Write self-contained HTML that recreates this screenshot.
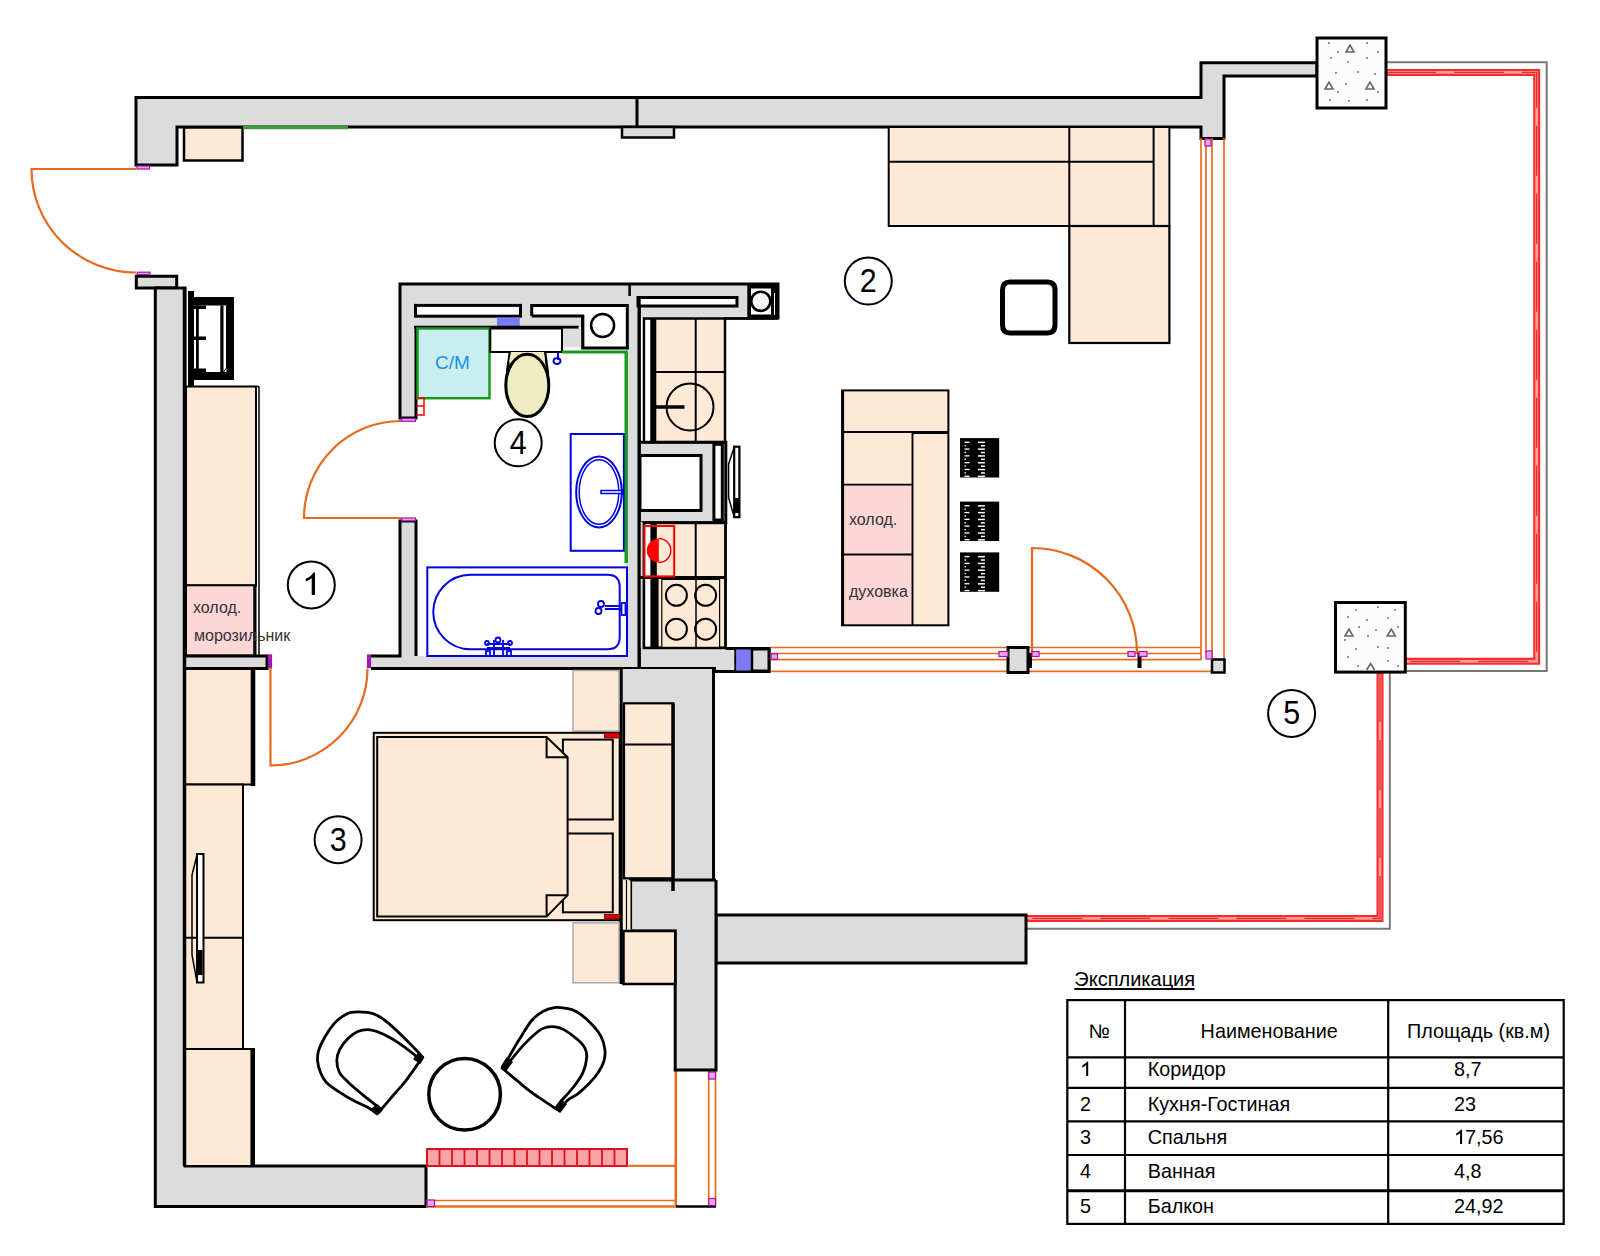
<!DOCTYPE html>
<html><head><meta charset="utf-8">
<style>
html,body{margin:0;padding:0;background:#fff;}
svg{display:block;}
text{font-family:"Liberation Sans",sans-serif;}
</style></head><body>
<svg width="1600" height="1256" viewBox="0 0 1600 1256">
<rect x="0" y="0" width="1600" height="1256" fill="#fff"/>
<!-- WALLS -->
<g fill="#dcdcdc" stroke="#000" stroke-width="3" stroke-linejoin="miter">
<path d="M136,97.6 H1201 V62.8 H1317 V76 H1224 V138.6 H1201 V127 H177 V165 H136 Z"/>
<path d="M136.3,276.3 H176.7 V288 H136.3 Z"/>
<path d="M155.3,288 H185 V1166 H426 V1206.6 H155.3 Z"/>
</g>
<!-- top wall details -->
<line x1="637" y1="97" x2="637" y2="127" stroke="#000" stroke-width="3"/>
<rect x="622" y="127" width="52" height="10.5" fill="#dcdcdc" stroke="#000" stroke-width="2.5"/>
<rect x="184" y="127.5" width="58.5" height="33" fill="#fde9d5" stroke="#000" stroke-width="2.5"/>
<line x1="243" y1="127.5" x2="348" y2="127.5" stroke="#3c9c3c" stroke-width="3.5"/>
<!-- RIGHT: pillars, railings -->
<g fill="none" stroke="#777" stroke-width="2">
<path d="M1386,62.2 H1546.7 V671 H1405"/>
<path d="M1389.8,672 V928.8 H1026"/>
</g>
<g fill="none" stroke-linejoin="miter">
<path d="M1386,72.4 H1536.7 V661.3 H1405" stroke="#ff2b2b" stroke-width="7"/>
<path d="M1386,72.4 H1536.7 V661.3 H1405" stroke="#ff9c9c" stroke-width="2.8"/>
<path d="M1386,72.4 H1536.7 V661.3 H1405" stroke="#d83030" stroke-width="1.3" stroke-dasharray="50 18"/>
<path d="M1380,672 V918.4 H1026" stroke="#ff2b2b" stroke-width="7"/>
<path d="M1380,672 V918.4 H1026" stroke="#ff9c9c" stroke-width="2.8"/>
<path d="M1380,672 V918.4 H1026" stroke="#d83030" stroke-width="1.3" stroke-dasharray="50 18"/>
</g>
<g id="pil">
<rect x="1317" y="38" width="69" height="70" fill="#fcfcfc" stroke="#000" stroke-width="3"/>
<g fill="none" stroke="#666" stroke-width="1.6">
<path d="M1346,52 L1350,45 L1354,52 Z"/>
<path d="M1325,89 L1329,82 L1333,89 Z"/>
<path d="M1366,89 L1370,82 L1374,89 Z"/>
</g>
<g fill="#666">
<circle cx="1329" cy="43" r="0.9"/><circle cx="1367" cy="43" r="0.9"/><circle cx="1338" cy="52" r="0.9"/><circle cx="1378" cy="52" r="0.9"/>
<circle cx="1331" cy="58" r="0.9"/><circle cx="1348" cy="62" r="0.9"/><circle cx="1367" cy="58" r="0.9"/><circle cx="1336" cy="73" r="0.9"/>
<circle cx="1358" cy="72" r="0.9"/><circle cx="1375" cy="74" r="0.9"/><circle cx="1346" cy="84" r="0.9"/><circle cx="1338" cy="92" r="0.9"/>
<circle cx="1330" cy="100" r="0.9"/><circle cx="1349" cy="101" r="0.9"/><circle cx="1367" cy="100" r="0.9"/><circle cx="1378" cy="92" r="0.9"/>
</g>
</g>
<rect x="1335.5" y="602.5" width="69.8" height="69.6" fill="#fcfcfc" stroke="#000" stroke-width="3"/>
<g fill="none" stroke="#666" stroke-width="1.6">
<path d="M1345,636 L1349,629 L1353,636 Z"/>
<path d="M1387.3,636 L1391.3,629 L1395.3,636 Z"/>
<path d="M1366.6,670 L1370.6,663.5 L1374.6,670"/>
</g>
<g fill="#666">
<circle cx="1356" cy="610" r="0.9"/><circle cx="1378" cy="607" r="0.9"/><circle cx="1395" cy="610" r="0.9"/><circle cx="1348" cy="617" r="0.9"/>
<circle cx="1367" cy="620" r="0.9"/><circle cx="1388" cy="618" r="0.9"/><circle cx="1359" cy="627" r="0.9"/><circle cx="1376" cy="630" r="0.9"/>
<circle cx="1398" cy="627" r="0.9"/><circle cx="1368" cy="636" r="0.9"/><circle cx="1345" cy="640" r="0.9"/><circle cx="1356" cy="649" r="0.9"/>
<circle cx="1378" cy="647" r="0.9"/><circle cx="1388" cy="648" r="0.9"/><circle cx="1348" cy="657" r="0.9"/><circle cx="1388" cy="661" r="0.9"/>
<circle cx="1358" cy="666" r="0.9"/><circle cx="1398" cy="666" r="0.9"/>
</g>
<!-- horizontal wall bedroom/living -->
<rect x="716" y="915" width="310" height="48" fill="#dcdcdc" stroke="#000" stroke-width="3"/>
<!-- BATH/KITCHEN WALLS -->
<g fill="#dcdcdc" stroke="none">
<rect x="400" y="284" width="378" height="34"/>
<rect x="400" y="284" width="240" height="43"/>
<rect x="400" y="284" width="16" height="134"/>
<rect x="400" y="521" width="16" height="147"/>
<rect x="371" y="656" width="269" height="13"/>
<rect x="626" y="318" width="14" height="350"/>
<rect x="640" y="442" width="85" height="80"/>
<rect x="624" y="648" width="145" height="23"/>
<rect x="185" y="656" width="82" height="13"/>
</g>
<g fill="none" stroke="#000" stroke-width="3">
<path d="M416,327 V418 H400 V284 H778 V318 H748"/>
<path d="M371,656 H400 V521 H416 V656"/>
<path d="M371,668.6 H716 M714,671.5 H769 V648.5 H726"/>
<path d="M639.2,297 V668"/>
<path d="M185,656 H267 V668.6 H185"/>
<path d="M629.6,284 V296" stroke-width="2.5"/>
</g>
<!-- LEFT wardrobe/entrance etc -->
<!-- DOORS (orange) -->
<g fill="none" stroke="#e8681e" stroke-width="2.2">
<path d="M136,169 H31.5 A104.5,103.5 0 0 0 136,272.5"/>
<path d="M401,518 H304 A97,97 0 0 1 401,421"/>
<path d="M270.5,668 V765.5 A97,97 0 0 0 367.5,668.5"/>
<path d="M1032,653 V548 A105,105 0 0 1 1137,653"/>
</g>
<!-- WINDOWS (orange lines) -->
<g fill="none" stroke="#ea6c1e" stroke-width="1.7">
<path d="M770,647.5 H1201 M770,653.5 H1201 M770,659.7 H1201 M770,671.4 H1212"/>
<path d="M1201,138 V660 M1206,138 V653 M1212,138 V660 M1224,138 V660"/>
<path d="M708.7,1070 V1206 M715.5,1070 V1206 M426,1165.6 H676 M426,1200.5 H676"/>
</g>
<g fill="none" stroke="#ea6c1e" stroke-width="2.6">
<path d="M675.8,1070 V1206.5 M426,1206.5 H676"/>
</g>
<path d="M676,1206.5 H716" stroke="#000" stroke-width="2.5"/>
<rect x="1008" y="647.5" width="20" height="25" fill="#dcdcdc" stroke="#000" stroke-width="3"/>
<rect x="1028" y="653" width="4" height="15" fill="#000"/>
<rect x="1137.5" y="653" width="4" height="15" fill="#000"/>
<rect x="1212" y="659.5" width="12.5" height="13" fill="#dcdcdc" stroke="#000" stroke-width="2.5"/>
<rect x="751" y="649" width="18" height="22" fill="#dcdcdc" stroke="#000" stroke-width="3"/>
<rect x="735.5" y="649.5" width="15.5" height="21" fill="#7b7bf2"/>
<line x1="752" y1="648" x2="752" y2="671" stroke="#000" stroke-width="2.5"/>
<line x1="735.2" y1="648" x2="735.2" y2="671" stroke="#000" stroke-width="1.8"/>
<!-- magenta door stops -->
<g fill="#f4a0e8" stroke="#9a1aa8" stroke-width="1.2">
<rect x="137" y="166" width="12.5" height="3"/>
<rect x="137.2" y="272.2" width="12.8" height="2.4"/>
<rect x="401.5" y="418.5" width="14" height="2.8"/>
<rect x="401.5" y="518" width="14" height="2.8"/>
<rect x="268.5" y="655" width="3" height="12.5" fill="#a21cb4"/>
<rect x="367.5" y="655" width="3" height="12.5" fill="#a21cb4"/>
<rect x="771" y="653.8" width="6.5" height="5.5"/>
<rect x="999" y="651.5" width="9" height="5"/>
<rect x="1032" y="651.5" width="7" height="5"/>
<rect x="1128" y="651.5" width="7" height="5"/>
<rect x="1139" y="651.5" width="8" height="5"/>
<rect x="1206" y="651" width="6" height="8"/>
<rect x="1205" y="139" width="6" height="7"/>
<rect x="708.7" y="1072" width="6.8" height="7"/>
<rect x="708.7" y="1198.5" width="6.8" height="7"/>
<rect x="427" y="1200" width="7.5" height="6.5"/>
</g>
<!-- CORRIDOR: electrical panel, wardrobe, fridge -->
<rect x="188" y="291" width="6" height="95" fill="#000"/>
<rect x="188" y="297" width="46" height="83" fill="#000"/>
<rect x="194" y="305.5" width="32.5" height="66.5" fill="#fff"/>
<rect x="196" y="305.5" width="2.8" height="66.5" fill="#000"/>
<rect x="220.3" y="305.5" width="3.2" height="66.5" fill="#000"/>
<rect x="194" y="305.5" width="12" height="3.5" fill="#000"/>
<rect x="194" y="336.5" width="12" height="3.5" fill="#000"/>
<rect x="194" y="368.5" width="12" height="3.5" fill="#000"/>
<path d="M223.5,372 L226.5,368 V305.5" stroke="#000" stroke-width="1" fill="none"/>
<rect x="186" y="386.5" width="70" height="199" fill="#fde9d5" stroke="#000" stroke-width="2"/>
<rect x="186" y="585.3" width="68.5" height="70" fill="#fdd6d6" stroke="#000" stroke-width="2"/>
<line x1="255" y1="585" x2="255" y2="656" stroke="#000" stroke-width="3"/>
<line x1="259" y1="386.5" x2="259" y2="656" stroke="#000" stroke-width="1.5"/>
<line x1="256" y1="386.5" x2="259" y2="386.5" stroke="#000" stroke-width="1.5"/>
<!-- BEDROOM left wardrobe -->
<rect x="185" y="669" width="68" height="115.5" fill="#fde9d5" stroke="#000" stroke-width="2"/>
<line x1="253" y1="669" x2="253" y2="786" stroke="#000" stroke-width="4.6"/>
<rect x="185" y="784.5" width="58" height="264.5" fill="#fde9d5" stroke="#000" stroke-width="2"/>
<line x1="185" y1="937.7" x2="243" y2="937.7" stroke="#000" stroke-width="2"/>
<rect x="185" y="1049" width="67.5" height="117" fill="#fde9d5" stroke="#000" stroke-width="2"/>
<line x1="252.7" y1="1048" x2="252.7" y2="1166" stroke="#000" stroke-width="4.6"/>
<path d="M197,854 V982.5 H203.5 V854 Z" fill="#fff" stroke="#000" stroke-width="2"/>
<path d="M197,855 L192,875 V955 L197,982" fill="none" stroke="#000" stroke-width="1.5"/>
<rect x="198" y="950" width="4.5" height="25" fill="#000"/>
<line x1="184.5" y1="288" x2="184.5" y2="1166" stroke="#000" stroke-width="3.5"/>
<!-- BEDROOM vertical wall -->
<g fill="#dcdcdc" stroke="none">
<rect x="622.5" y="669" width="91.5" height="212"/>
<rect x="622.5" y="880" width="93.5" height="51"/>
<rect x="675" y="880" width="41" height="190"/>
</g>
<g fill="none" stroke="#000" stroke-width="3">
<path d="M713.5,669 V880 M716,880 V1070 H675.2 V931 H630.6 V880 H716"/>
</g>
<rect x="624" y="703.3" width="49.2" height="175" fill="#fde9d5" stroke="#000" stroke-width="2.2"/>
<line x1="624" y1="744.6" x2="673" y2="744.6" stroke="#000" stroke-width="2"/>
<line x1="673" y1="703" x2="673" y2="891" stroke="#000" stroke-width="3.5"/>
<rect x="622.5" y="880.5" width="8" height="50.5" fill="#fde9d5"/>
<line x1="626.5" y1="880" x2="626.5" y2="931" stroke="#000" stroke-width="1.2"/>
<rect x="623.5" y="931" width="51.7" height="53" fill="#fde9d5" stroke="#000" stroke-width="2.5"/>
<line x1="621" y1="669" x2="621" y2="984" stroke="#000" stroke-width="3.5"/>
<!-- nightstands -->
<rect x="573" y="670.5" width="46" height="60.5" fill="#fde9d5" stroke="#aaa" stroke-width="1.5"/>
<rect x="573" y="922.8" width="46" height="60" fill="#fde9d5" stroke="#aaa" stroke-width="1.5"/>
<!-- BED -->
<rect x="373.7" y="732.8" width="246" height="187.4" fill="#fde9d5" stroke="#000" stroke-width="2"/>
<rect x="562.9" y="739.6" width="49.9" height="79.9" fill="#fde9d5" stroke="#000" stroke-width="2"/>
<rect x="562.9" y="833.5" width="49.9" height="78.8" fill="#fde9d5" stroke="#000" stroke-width="2"/>
<path d="M377.2,737 H546.6 L567.6,757.2 V895.2 L546.6,916.6 H377.2 Z" fill="#fde9d5" stroke="#000" stroke-width="2"/>
<path d="M546.6,737 V757.2 H567.6 M546.6,916 V895.2 H567.6" fill="none" stroke="#000" stroke-width="2"/>
<rect x="604.5" y="733" width="15" height="5" fill="#e00000" stroke="#600" stroke-width="0.8"/>
<rect x="604.5" y="914.5" width="15" height="4.5" fill="#e00000" stroke="#600" stroke-width="0.8"/>
<!-- KITCHEN counters -->
<rect x="644" y="318.5" width="81" height="123.7" fill="#fde9d5" stroke="#000" stroke-width="2.5"/>
<rect x="645.5" y="320" width="5" height="121" fill="#fff"/>
<rect x="650.3" y="318.5" width="6" height="123.5" fill="#000"/>
<line x1="695.7" y1="318.5" x2="695.7" y2="442" stroke="#000" stroke-width="2"/>
<line x1="656" y1="372" x2="725" y2="372" stroke="#000" stroke-width="2"/>
<circle cx="690" cy="407" r="23.5" fill="none" stroke="#000" stroke-width="2"/>
<line x1="656" y1="407" x2="684.5" y2="407" stroke="#000" stroke-width="3.5"/>
<rect x="638" y="297.5" width="99" height="8.5" fill="#fff" stroke="#000" stroke-width="3"/>
<line x1="724" y1="318.5" x2="748" y2="318.5" stroke="#000" stroke-width="2.8"/>
<rect x="747.3" y="283" width="30.5" height="36.8" fill="#000"/>
<rect x="751" y="288.5" width="20" height="26" fill="#fff"/>
<circle cx="760.8" cy="301.3" r="9.6" fill="#f6f6f6" stroke="#000" stroke-width="2.6"/>
<line x1="774.5" y1="293" x2="774.5" y2="315" stroke="#fff" stroke-width="1"/>
<!-- kitchen middle -->
<path d="M640,442.3 H725.8 V522.8 H640" fill="none" stroke="#000" stroke-width="3"/>
<rect x="640" y="455.5" width="61" height="55" fill="#fff" stroke="#000" stroke-width="3"/>
<rect x="713.9" y="444.3" width="8.4" height="75.7" fill="#fff" stroke="#000" stroke-width="3"/>
<rect x="734.2" y="446.7" width="5.2" height="70.5" fill="#fff" stroke="#000" stroke-width="2.2"/>
<path d="M734.2,447 L728.6,464 V497.7 L734.2,517" fill="none" stroke="#000" stroke-width="1.5"/>
<rect x="734.5" y="498" width="4.6" height="15" fill="#000"/>
<!-- kitchen lower -->
<rect x="640" y="522" width="5" height="126" fill="#dcdcdc"/>
<rect x="644" y="522.8" width="81.5" height="125" fill="#fde9d5" stroke="#000" stroke-width="2.8"/>
<rect x="645.5" y="524.5" width="5" height="122" fill="#fff"/>
<rect x="650.4" y="524" width="6.4" height="54" fill="#000"/>
<rect x="650.4" y="577" width="8.2" height="71" fill="#000"/>
<line x1="695.7" y1="523" x2="695.7" y2="577" stroke="#000" stroke-width="2"/>
<line x1="640" y1="577.4" x2="725" y2="577.4" stroke="#000" stroke-width="3"/>
<rect x="661.8" y="579.4" width="57.8" height="68" fill="#fde9d5" stroke="#000" stroke-width="1.2"/>
<line x1="696" y1="579" x2="696" y2="647" stroke="#000" stroke-width="1.5"/>
<g fill="none" stroke="#000" stroke-width="2">
<circle cx="676.4" cy="595.3" r="10.5"/><circle cx="705.6" cy="595.3" r="10.5"/>
<circle cx="676.4" cy="629.2" r="10.5"/><circle cx="705.6" cy="629.2" r="10.5"/>
</g>
<rect x="644.3" y="526" width="29.9" height="50.4" fill="none" stroke="#f00" stroke-width="2"/>
<path d="M658.8,538.5 A12,12 0 0 0 658.8,562.5 Z" fill="#f00"/>
<path d="M658.8,538.5 A12,12 0 0 1 658.8,562.5" fill="none" stroke="#f00" stroke-width="1.5"/>
<!-- BATHROOM fixtures -->
<rect x="415.5" y="305.4" width="105" height="10.8" fill="#fff" stroke="#000" stroke-width="3"/>
<rect x="497" y="317.5" width="22.8" height="10" fill="#7b7bf2"/>
<rect x="531.7" y="305.4" width="95.6" height="10.8" fill="#fff"/>
<rect x="582.7" y="316" width="44.6" height="32" fill="#fff"/>
<path d="M531.7,316 V305.4 H627.3 V348 H582.7 V316 H531.7" fill="none" stroke="#000" stroke-width="3"/>
<circle cx="602.6" cy="325.4" r="11.5" fill="#fff" stroke="#000" stroke-width="2.5"/>
<line x1="414" y1="327.3" x2="578.7" y2="327.3" stroke="#000" stroke-width="3"/>
<rect x="417.5" y="328.5" width="72" height="69.7" fill="#c8eef0" stroke="#1a9a1a" stroke-width="2.5"/>
<text x="435" y="368.5" font-size="19" fill="#1a8fe0">С/М</text>
<rect x="562" y="328.8" width="21" height="18.5" fill="#dcdcdc"/>
<path d="M582.7,316 V348" stroke="#000" stroke-width="3"/>
<rect x="490.3" y="328.5" width="71.7" height="23.5" fill="#fff" stroke="#000" stroke-width="2"/>
<path d="M510,352 L507,372 M545,352 L548,374" stroke="#000" stroke-width="2.5" fill="none"/>
<path d="M511,352 H544 L545,362 H509 Z" fill="#efecc2"/>
<ellipse cx="527.3" cy="385.4" rx="21.5" ry="31.2" fill="#efecc2" stroke="#000" stroke-width="3"/>
<path d="M562,352 H626.2 V563" fill="none" stroke="#1a9a1a" stroke-width="3"/>
<path d="M558,352 V360 M553.5,361 a3.5,3 0 1 0 7,0 a3.5,3 0 1 0 -7,0" fill="none" stroke="#0000e0" stroke-width="2"/>
<path d="M416.5,398 H424 V415 H416.5 M416.5,406 H424" fill="none" stroke="#f00" stroke-width="1.5"/>
<rect x="570.7" y="434" width="53.2" height="116.8" fill="#fff" stroke="#0000e0" stroke-width="2"/>
<ellipse cx="599" cy="492" rx="22.8" ry="35.4" fill="none" stroke="#0000e0" stroke-width="2"/>
<ellipse cx="599" cy="492" rx="19.8" ry="32.2" fill="none" stroke="#0000e0" stroke-width="1.5"/>
<path d="M601,490.5 H622 V493.5 H601 Z" fill="#fff" stroke="#0000e0" stroke-width="1.5"/>
<circle cx="624" cy="492" r="2.5" fill="none" stroke="#0000e0" stroke-width="1.5"/>
<line x1="626.2" y1="352" x2="626.2" y2="563" stroke="#1a9a1a" stroke-width="3"/>
<rect x="427.3" y="567.4" width="199.7" height="88.6" fill="#fff" stroke="#0000e0" stroke-width="2"/>
<path d="M470.5,574.8 H607.5 Q619.7,574.8 619.7,587 V637 Q619.7,649.3 607.5,649.3 H470.5 A37.25,37.25 0 0 1 470.5,574.8 Z" fill="none" stroke="#0000e0" stroke-width="2"/>
<g fill="none" stroke="#0000e0" stroke-width="1.8">
<path d="M605,606 H622 M605,609 H622"/>
<circle cx="601" cy="604" r="3"/><circle cx="598.5" cy="611" r="3"/>
<rect x="621.5" y="603" width="4" height="12"/>
<path d="M487,644 H510 M487,648 H510 M494,640 V655 M503,640 V655"/>
<circle cx="498" cy="640" r="2.5"/>
<circle cx="487" cy="643" r="2"/><circle cx="510" cy="643" r="2"/>
<rect x="486" y="651" width="4" height="5"/><rect x="507" y="651" width="4" height="5"/>
</g>
<line x1="639.2" y1="297" x2="639.2" y2="668" stroke="#000" stroke-width="3"/>
<!-- LIVING: sofa, chair, island, stools -->
<rect x="888.7" y="127" width="280.7" height="99" fill="#fde9d5" stroke="#000" stroke-width="2"/>
<rect x="1069.3" y="226" width="100.1" height="117" fill="#fde9d5" stroke="#000" stroke-width="2.2"/>
<path d="M888.7,161.8 H1153.6 M1069.3,127 V226 M1153.6,127 V226" fill="none" stroke="#000" stroke-width="2"/>
<path d="M1010,282 H1047 Q1055,282 1055,290 V325 Q1055,333 1047,333 H1010 Q1002.5,333 1002.5,325 V290 Q1002.5,282 1010,282 Z" fill="none" stroke="#000" stroke-width="5"/>
<rect x="842.2" y="390.4" width="106.2" height="234.9" fill="#fde9d5"/>
<rect x="842.2" y="484.6" width="70.3" height="69.9" fill="#fdd6d6"/>
<rect x="842.2" y="554.5" width="70.3" height="70.8" fill="#fdd6d6"/>
<path d="M842.2,432 H912.5 M912.5,432 H948.4 M912.5,432 V625.3 M842.2,484.6 H912.5 M842.2,554.5 H912.5" fill="none" stroke="#000" stroke-width="1.9"/>
<rect x="912.5" y="431" width="36" height="3" fill="#000"/>
<rect x="842.2" y="390.4" width="106.2" height="234.9" fill="none" stroke="#000" stroke-width="2"/>
<line x1="842.7" y1="390" x2="842.7" y2="626" stroke="#000" stroke-width="2.8"/>
<text x="849" y="525" font-size="16" fill="#333">холод.</text>
<text x="849" y="597" font-size="16" fill="#333">духовка</text>
<rect x="960" y="438.1" width="39.2" height="39.4" fill="#000"/>
<rect x="964.5" y="441.6" width="5" height="1.3" fill="#fff"/>
<rect x="964.5" y="445.0" width="1.5" height="1.3" fill="#fff"/>
<rect x="964.5" y="448.4" width="5" height="1.3" fill="#fff"/>
<rect x="964.5" y="451.8" width="1.5" height="1.3" fill="#fff"/>
<rect x="964.5" y="455.2" width="5" height="1.3" fill="#fff"/>
<rect x="964.5" y="458.6" width="1.5" height="1.3" fill="#fff"/>
<rect x="964.5" y="462.0" width="5" height="1.3" fill="#fff"/>
<rect x="964.5" y="465.4" width="1.5" height="1.3" fill="#fff"/>
<rect x="964.5" y="468.8" width="5" height="1.3" fill="#fff"/>
<rect x="964.5" y="472.2" width="1.5" height="1.3" fill="#fff"/>
<rect x="964.5" y="475.6" width="5" height="1.3" fill="#fff"/>
<rect x="977.9" y="441.6" width="7" height="1.5" fill="#fff"/>
<rect x="980.9" y="445.0" width="4" height="1.5" fill="#fff"/>
<rect x="977.9" y="448.4" width="7" height="1.5" fill="#fff"/>
<rect x="980.9" y="451.8" width="4" height="1.5" fill="#fff"/>
<rect x="977.9" y="455.2" width="7" height="1.5" fill="#fff"/>
<rect x="980.9" y="458.6" width="4" height="1.5" fill="#fff"/>
<rect x="977.9" y="462.0" width="7" height="1.5" fill="#fff"/>
<rect x="980.9" y="465.4" width="4" height="1.5" fill="#fff"/>
<rect x="977.9" y="468.8" width="7" height="1.5" fill="#fff"/>
<rect x="980.9" y="472.2" width="4" height="1.5" fill="#fff"/>
<rect x="977.9" y="475.6" width="7" height="1.5" fill="#fff"/>
<rect x="960" y="501.6" width="39.2" height="39.4" fill="#000"/>
<rect x="964.5" y="505.1" width="5" height="1.3" fill="#fff"/>
<rect x="964.5" y="508.5" width="1.5" height="1.3" fill="#fff"/>
<rect x="964.5" y="511.9" width="5" height="1.3" fill="#fff"/>
<rect x="964.5" y="515.3" width="1.5" height="1.3" fill="#fff"/>
<rect x="964.5" y="518.7" width="5" height="1.3" fill="#fff"/>
<rect x="964.5" y="522.1" width="1.5" height="1.3" fill="#fff"/>
<rect x="964.5" y="525.5" width="5" height="1.3" fill="#fff"/>
<rect x="964.5" y="528.9" width="1.5" height="1.3" fill="#fff"/>
<rect x="964.5" y="532.3" width="5" height="1.3" fill="#fff"/>
<rect x="964.5" y="535.7" width="1.5" height="1.3" fill="#fff"/>
<rect x="964.5" y="539.1" width="5" height="1.3" fill="#fff"/>
<rect x="977.9" y="505.1" width="7" height="1.5" fill="#fff"/>
<rect x="980.9" y="508.5" width="4" height="1.5" fill="#fff"/>
<rect x="977.9" y="511.9" width="7" height="1.5" fill="#fff"/>
<rect x="980.9" y="515.3" width="4" height="1.5" fill="#fff"/>
<rect x="977.9" y="518.7" width="7" height="1.5" fill="#fff"/>
<rect x="980.9" y="522.1" width="4" height="1.5" fill="#fff"/>
<rect x="977.9" y="525.5" width="7" height="1.5" fill="#fff"/>
<rect x="980.9" y="528.9" width="4" height="1.5" fill="#fff"/>
<rect x="977.9" y="532.3" width="7" height="1.5" fill="#fff"/>
<rect x="980.9" y="535.7" width="4" height="1.5" fill="#fff"/>
<rect x="977.9" y="539.1" width="7" height="1.5" fill="#fff"/>
<rect x="960" y="552.4" width="39.2" height="39.4" fill="#000"/>
<rect x="964.5" y="555.9" width="5" height="1.3" fill="#fff"/>
<rect x="964.5" y="559.3" width="1.5" height="1.3" fill="#fff"/>
<rect x="964.5" y="562.7" width="5" height="1.3" fill="#fff"/>
<rect x="964.5" y="566.1" width="1.5" height="1.3" fill="#fff"/>
<rect x="964.5" y="569.5" width="5" height="1.3" fill="#fff"/>
<rect x="964.5" y="572.9" width="1.5" height="1.3" fill="#fff"/>
<rect x="964.5" y="576.3" width="5" height="1.3" fill="#fff"/>
<rect x="964.5" y="579.7" width="1.5" height="1.3" fill="#fff"/>
<rect x="964.5" y="583.1" width="5" height="1.3" fill="#fff"/>
<rect x="964.5" y="586.5" width="1.5" height="1.3" fill="#fff"/>
<rect x="964.5" y="589.9" width="5" height="1.3" fill="#fff"/>
<rect x="977.9" y="555.9" width="7" height="1.5" fill="#fff"/>
<rect x="980.9" y="559.3" width="4" height="1.5" fill="#fff"/>
<rect x="977.9" y="562.7" width="7" height="1.5" fill="#fff"/>
<rect x="980.9" y="566.1" width="4" height="1.5" fill="#fff"/>
<rect x="977.9" y="569.5" width="7" height="1.5" fill="#fff"/>
<rect x="980.9" y="572.9" width="4" height="1.5" fill="#fff"/>
<rect x="977.9" y="576.3" width="7" height="1.5" fill="#fff"/>
<rect x="980.9" y="579.7" width="4" height="1.5" fill="#fff"/>
<rect x="977.9" y="583.1" width="7" height="1.5" fill="#fff"/>
<rect x="980.9" y="586.5" width="4" height="1.5" fill="#fff"/>
<rect x="977.9" y="589.9" width="7" height="1.5" fill="#fff"/><!-- BEDROOM furniture -->
<g fill="none" stroke="#000" stroke-width="2.8" stroke-linecap="round" stroke-linejoin="round">
<path d="M422.7,1057.3 C420.8,1055.2 416.9,1050.5 411.3,1044.9 C405.7,1039.3 395.0,1028.8 389.3,1023.9 C383.6,1019.0 380.6,1017.2 376.9,1015.3 C373.2,1013.4 371.6,1012.9 367.3,1012.4 C363.0,1011.9 355.4,1011.6 351.1,1012.4 C346.8,1013.2 344.4,1015.3 341.5,1017.2 C338.6,1019.1 336.6,1020.7 333.9,1023.9 C331.2,1027.1 327.9,1031.8 325.3,1036.3 C322.8,1040.8 319.9,1046.5 318.6,1050.6 C317.3,1054.7 317.3,1057.4 317.6,1061.1 C317.9,1064.8 319.1,1069.1 320.5,1072.6 C321.9,1076.1 323.2,1079.0 326.2,1082.2 C329.2,1085.4 334.2,1088.7 338.7,1091.7 C343.2,1094.7 348.2,1097.8 353.0,1100.3 C357.8,1102.8 363.3,1104.8 367.3,1107.0 C371.3,1109.2 375.3,1112.6 376.9,1113.7"/>
<path d="M418.9,1058.3 C416.7,1056.5 410.1,1051.1 405.5,1047.8 C400.9,1044.5 396.0,1040.9 391.2,1038.2 C386.4,1035.5 380.9,1032.9 376.9,1031.5 C372.9,1030.1 370.5,1029.6 367.3,1029.6 C364.1,1029.6 361.0,1030.1 357.8,1031.5 C354.6,1032.9 351.2,1035.2 348.2,1038.2 C345.2,1041.2 341.5,1045.9 339.6,1049.7 C337.7,1053.5 336.8,1057.3 336.8,1061.1 C336.8,1064.9 337.7,1069.1 339.6,1072.6 C341.5,1076.1 344.4,1078.5 348.2,1082.2 C352.0,1085.9 357.1,1090.1 362.5,1094.6 C367.9,1099.0 377.7,1106.5 380.7,1108.9"/>
<path d="M421.0,1059.5 C418.4,1063.1 410.3,1075.0 405.5,1081.2 C400.7,1087.4 396.6,1091.4 392.2,1096.5 C387.8,1101.6 381.2,1109.4 379.0,1112.0"/>
<path d="M502.6,1066.9 C503.7,1065.2 506.6,1060.9 509.3,1056.4 C512.0,1051.9 515.2,1046.0 518.9,1040.1 C522.6,1034.2 527.3,1025.8 531.3,1021.0 C535.3,1016.2 539.0,1013.7 542.8,1011.5 C546.6,1009.3 550.6,1008.2 554.2,1007.6 C557.9,1007.0 561.0,1007.5 564.7,1008.1 C568.4,1008.8 571.9,1009.0 576.2,1011.5 C580.5,1014.0 586.4,1018.8 590.5,1022.9 C594.6,1027.0 598.6,1031.8 601.0,1036.3 C603.4,1040.8 604.4,1045.6 604.9,1049.7 C605.4,1053.8 605.0,1057.3 603.9,1061.1 C602.8,1064.9 600.6,1068.9 598.2,1072.6 C595.8,1076.3 593.0,1079.6 589.6,1083.1 C586.2,1086.6 581.8,1090.7 578.1,1093.6 C574.4,1096.5 570.8,1097.4 567.6,1100.3 C564.4,1103.2 560.4,1109.0 559.0,1110.8"/>
<path d="M509.3,1062.1 C511.7,1059.2 518.9,1050.0 523.7,1044.9 C528.5,1039.8 534.2,1034.5 538.0,1031.5 C541.8,1028.5 543.7,1028.0 546.6,1027.2 C549.5,1026.4 552.3,1026.4 555.2,1026.8 C558.1,1027.2 560.1,1027.5 563.8,1029.6 C567.5,1031.7 573.7,1036.2 577.2,1039.2 C580.7,1042.2 583.2,1044.8 584.8,1047.8 C586.4,1050.8 587.0,1053.2 586.7,1057.3 C586.4,1061.4 585.0,1067.8 582.9,1072.6 C580.8,1077.4 577.8,1081.4 574.3,1086.0 C570.8,1090.6 564.0,1097.9 561.9,1100.3"/>
<path d="M502.0,1068.0 C504.8,1070.4 513.7,1077.9 518.9,1082.2 C524.1,1086.5 526.9,1089.0 533.2,1093.6 C539.6,1098.1 553.0,1106.8 557.0,1109.5"/>
<path d="M418,1054 L423.5,1057.5 L420,1063 L414,1059 Z M372,1109 L377.5,1114.5 L382,1110 L377,1105 Z" fill="#000" stroke-width="1.5"/>
<path d="M502,1066 L507,1058 L512,1062 L506,1070 Z M555,1108 L560,1112 L566,1104 L561,1100 Z" fill="#000" stroke-width="1.5"/>
</g>
<circle cx="464.6" cy="1094.3" r="35.8" fill="none" stroke="#000" stroke-width="3.5"/>
<rect x="427" y="1149" width="200" height="17" fill="#f9a3a6" stroke="#dc1020" stroke-width="2"/>
<path d="M439.5,1149 V1166 M452,1149 V1166 M464.5,1149 V1166 M477,1149 V1166 M489.5,1149 V1166 M502,1149 V1166 M514.5,1149 V1166 M527,1149 V1166 M539.5,1149 V1166 M552,1149 V1166 M564.5,1149 V1166 M577,1149 V1166 M589.5,1149 V1166 M602,1149 V1166 M614.5,1149 V1166" stroke="#dc1020" stroke-width="1.8"/>
<path d="M627,1166 H676" stroke="#ea6c1e" stroke-width="1.7"/>
<!-- ROOM NUMBERS -->
<g fill="none" stroke="#000" stroke-width="2">
<circle cx="311.3" cy="584.9" r="23.5"/>
<circle cx="868.3" cy="281" r="23.5"/>
<circle cx="338.1" cy="839.7" r="23.5"/>
<circle cx="518.2" cy="442.8" r="23.5"/>
<circle cx="1291.6" cy="713.4" r="23.5"/>
</g>
<g font-size="30.5" text-anchor="middle" fill="#000">
<path d="M313.3,572.4 C312,575 309,577.5 305.8,578.6 V581.6 C308,580.8 310.5,579.2 311.7,578 V594.9 H315 V572.4 Z"/>
<text transform="translate(868.3,291.8) scale(1,1.1)">2</text>
<text transform="translate(338.1,850.5) scale(1,1.1)">3</text>
<text transform="translate(518.2,453.6) scale(1,1.1)">4</text>
<text transform="translate(1291.6,724.2) scale(1,1.1)">5</text>
</g>
<text x="193" y="613" font-size="16" fill="#333">холод.</text>
<text x="194" y="641" font-size="16" fill="#333">морозильник</text>
<!-- TABLE -->
<g font-size="19.8" fill="#000">
<text x="1074.3" y="985.5" font-size="20">Экспликация</text>
<text x="1088.5" y="1038">№</text>
<text x="1200.6" y="1038">Наименование</text>
<text x="1407" y="1038">Площадь (кв.м)</text>
<path d="M1086.2,1076 V1065.1 C1085.0,1066.2 1083.6,1067.0 1082.3,1067.5 V1065.4 C1084.2,1064.5 1086.0,1063.2 1087.0,1061.8 H1088.2 V1076 Z" fill="#000"/><text x="1147.7" y="1076">Коридор</text><text x="1453.9" y="1076">8,7</text>
<text x="1080" y="1110.5">2</text><text x="1147.7" y="1110.5">Кухня-Гостиная</text><text x="1453.9" y="1110.5">23</text>
<text x="1080" y="1144">3</text><text x="1147.7" y="1144">Спальня</text><path d="M1460.1,1144 V1133.1 C1458.9,1134.2 1457.5,1135.0 1456.2,1135.5 V1133.4 C1458.1,1132.5 1459.9,1131.2 1460.9,1129.8 H1462.1 V1144 Z" fill="#000"/><text x="1464.9" y="1144">7,56</text>
<text x="1080" y="1178">4</text><text x="1147.7" y="1178">Ванная</text><text x="1453.9" y="1178">4,8</text>
<text x="1080" y="1213">5</text><text x="1147.7" y="1213">Балкон</text><text x="1453.9" y="1213">24,92</text>
</g>
<line x1="1074.3" y1="989" x2="1194.5" y2="989" stroke="#000" stroke-width="1.8"/>
<g fill="none" stroke="#000" stroke-width="2.2">
<rect x="1067.3" y="1000.1" width="496.4" height="223.8"/>
<path d="M1125,1000 V1224 M1388.2,1000 V1224 M1067,1057.4 H1564 M1067,1087.8 H1564 M1067,1121.3 H1564 M1067,1155 H1564 "/>
<path d="M1067,1190.7 H1564" stroke-width="3"/>
</g>
</svg>
</body></html>
